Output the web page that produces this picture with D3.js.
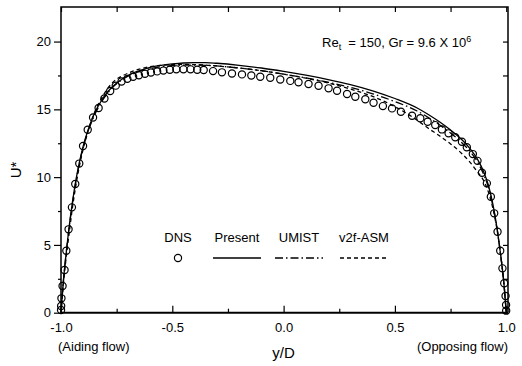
<!DOCTYPE html>
<html>
<head>
<meta charset="utf-8">
<script src="https://cdn.jsdelivr.net/npm/d3@7"></script>
<style>
  body { margin: 0; background: #fff; }
  svg { display: block; font-family: "Liberation Sans", Arial, sans-serif; }
</style>
</head>
<body>
<div id="chart"></div>
<script>
// DNS points (circles)
const dnsY = [-0.9998, -0.9993, -0.998, -0.993, -0.984, -0.976, -0.966, -0.951, -0.936, -0.918,
  -0.901, -0.880, -0.856, -0.831, -0.805, -0.779, -0.754, -0.728, -0.702, -0.676, -0.650, -0.623, -0.596, -0.568, -0.540, -0.511, -0.482,
  -0.450, -0.418, -0.388, -0.359, -0.317, -0.277, -0.232, -0.187, -0.145, -0.105, -0.060, -0.015,
  0.030, 0.067, 0.112, 0.157, 0.202, 0.240, 0.285, 0.322, 0.367, 0.404, 0.446, 0.487, 0.527, 0.577,
  0.614, 0.647, 0.681, 0.711, 0.741, 0.771, 0.801, 0.823, 0.850, 0.871,
  0.891, 0.913, 0.931, 0.946, 0.961, 0.973, 0.983, 0.991, 0.997, 0.9993, 0.9998];
const dnsU = [0.2, 0.5, 1.06, 1.97, 3.15, 4.57, 6.15, 7.77, 9.49, 11.0,
  12.3, 13.5, 14.4, 15.1, 15.8, 16.35, 16.75, 17.05, 17.25, 17.4, 17.52, 17.62, 17.72, 17.8, 17.86, 17.92, 17.95,
  17.95, 17.95, 17.92, 17.9, 17.82, 17.73, 17.65, 17.58, 17.5, 17.4, 17.33, 17.2,
  17.1, 17.0, 16.87, 16.74, 16.55, 16.37, 16.13, 15.93, 15.74, 15.49, 15.24, 15.07, 14.82, 14.53,
  14.34, 14.09, 13.84, 13.52, 13.23, 12.94, 12.61, 12.2, 11.7, 11.2,
  10.32, 9.54, 8.55, 7.33, 5.97, 4.57, 3.27, 2.17, 1.23, 0.57, 0.15];

// model curves share one y/D grid
const modelY = [-1, -0.99, -0.98, -0.97, -0.96, -0.95, -0.94,
  -0.92, -0.9, -0.88, -0.85, -0.82, -0.79, -0.76, -0.72, -0.68, -0.64, -0.6,
  -0.55, -0.5, -0.45, -0.4, -0.35, -0.3,
  -0.2, -0.1, 0,
  0.1, 0.2, 0.3, 0.4, 0.5, 0.6,
  0.65, 0.7, 0.75, 0.8,
  0.84, 0.87, 0.9, 0.92, 0.94,
  0.96, 0.97, 0.98, 0.99, 1.0];
const presentU = [0, 2.2, 3.9, 5.4, 6.8, 8.0, 9.1,
  10.9, 12.3, 13.4, 14.7, 15.6, 16.3, 16.8, 17.3, 17.65, 17.9, 18.1,
  18.25, 18.35, 18.42, 18.45, 18.45, 18.4,
  18.25, 18.05, 17.8,
  17.52, 17.2, 16.83, 16.37, 15.8, 15.1,
  14.62, 14.08, 13.47, 12.77,
  12.05, 11.35, 10.35, 9.4, 8.0,
  6.1, 4.9, 3.6, 2.1, 0];
const umistU = [0, 2.2, 3.9, 5.4, 6.7, 7.9, 9.0,
  10.8, 12.2, 13.3, 14.55, 15.5, 16.2, 16.75, 17.25, 17.6, 17.85, 18.0,
  18.15, 18.22, 18.26, 18.27, 18.25, 18.2,
  18.05, 17.85, 17.6,
  17.32, 17.0, 16.62, 16.15, 15.57, 14.88,
  14.4, 13.86, 13.25, 12.55,
  11.85, 11.15, 10.15, 9.25, 7.9,
  6.1, 4.9, 3.6, 2.1, 0];
const v2fU = [0, 2.0, 3.6, 5.0, 6.3, 7.6, 8.7,
  10.6, 12.1, 13.3, 14.75, 15.75, 16.55, 17.1, 17.5, 17.8, 18.0, 18.15,
  18.25, 18.3, 18.32, 18.3, 18.27, 18.2,
  18.05, 17.85, 17.6,
  17.3, 16.95, 16.5, 15.95, 15.2, 14.2,
  13.6, 13.05, 12.45, 11.75,
  11.05, 10.4, 9.7, 8.9, 7.7,
  6.0, 4.9, 3.6, 2.1, 0];

const xMajor = [-1.0, -0.5, 0.0, 0.5, 1.0];
const xMinor = [-0.75, -0.25, 0.25, 0.75];
const yMajor = [0, 5, 10, 15, 20];
const yMinor = [2.5, 7.5, 12.5, 17.5];

const legendNames = ["DNS", "Present", "UMIST", "v2f-ASM"];

const W = 522, H = 366;
const margin = { top: 7, right: 14, bottom: 53.3, left: 61 };

const svg = d3.select("#chart")
  .append("svg")
  .attr("width", W)
  .attr("height", H);

const x = d3.scaleLinear()
  .domain([-1, 1.008])
  .range([margin.left, W - margin.right]);

const y = d3.scaleLinear()
  .domain([0, 22.55])
  .range([H - margin.bottom, margin.top]);

const x0 = margin.left, x1 = W - margin.right;
const y0 = H - margin.bottom, y1 = margin.top;

// bottom axis: ticks point inward (up)
svg.append("g")
  .attr("transform", `translate(0,${y0})`)
  .call(d3.axisBottom(x).tickValues(xMajor).tickSizeInner(-7).tickSizeOuter(0).tickPadding(10))
  .call(g => g.select(".domain").remove())
  .selectAll("text")
    .style("font-size", "13px")
    .text(d => d3.format(".1f")(d).replace("−", "-"));

svg.append("g")
  .attr("transform", `translate(0,${y0})`)
  .call(d3.axisBottom(x).tickValues(xMinor).tickSizeInner(-4).tickSizeOuter(0).tickFormat(""))
  .call(g => g.select(".domain").remove());

// top axis, inward ticks, no labels
svg.append("g")
  .attr("transform", `translate(0,${y1})`)
  .call(d3.axisTop(x).tickValues(xMajor.concat(xMinor)).tickSizeInner(-5).tickSizeOuter(0).tickFormat(""))
  .call(g => g.select(".domain").remove());

// left axis: ticks outward
svg.append("g")
  .attr("transform", `translate(${x0},0)`)
  .call(d3.axisLeft(y).tickValues(yMajor).tickSizeInner(7).tickSizeOuter(0).tickPadding(3))
  .call(g => g.select(".domain").remove())
  .selectAll("text")
    .style("font-size", "13px");

svg.append("g")
  .attr("transform", `translate(${x0},0)`)
  .call(d3.axisLeft(y).tickValues(yMinor).tickSizeInner(3).tickSizeOuter(0).tickFormat(""))
  .call(g => g.select(".domain").remove());

// right axis: inward ticks
svg.append("g")
  .attr("transform", `translate(${x1},0)`)
  .call(d3.axisRight(y).tickValues(yMajor.concat(yMinor)).tickSizeInner(-5).tickSizeOuter(0).tickFormat(""))
  .call(g => g.select(".domain").remove());

svg.selectAll(".tick line").attr("stroke", "#000").attr("stroke-width", 1.2);

// frame
svg.append("path")
  .attr("d", `M${x0},${y0}V${y1}H${x1}V${y0}`)
  .attr("fill", "none")
  .attr("stroke", "#000")
  .attr("stroke-width", 1.5);
svg.append("line")
  .attr("x1", x0).attr("x2", x1)
  .attr("y1", y0).attr("y2", y0)
  .attr("stroke", "#000")
  .attr("stroke-width", 2);

// model curves
const line = d3.line()
  .x(d => x(d[0]))
  .y(d => y(d[1]))
  .curve(d3.curveMonotoneX);

const series = [
  { name: "Present", values: presentU, dash: null },
  { name: "UMIST", values: umistU, dash: "8,3,1.5,3" },
  { name: "v2f-ASM", values: v2fU, dash: "4,3" }
];

series.forEach(s => {
  svg.append("path")
    .datum(modelY.map((v, i) => [v, s.values[i]]))
    .attr("d", line)
    .attr("fill", "none")
    .attr("stroke", "#000")
    .attr("stroke-width", 1.3)
    .attr("stroke-dasharray", s.dash);
});

// DNS circles
svg.append("g")
  .selectAll("circle")
  .data(dnsY.map((v, i) => [v, dnsU[i]]))
  .enter()
  .append("circle")
    .attr("cx", d => x(d[0]))
    .attr("cy", d => y(d[1]))
    .attr("r", 3.6)
    .attr("fill", "none")
    .attr("stroke", "#000")
    .attr("stroke-width", 1.2);

// legend
const legendCenters = [178, 237, 299, 364];
const legendG = svg.append("g");
legendG.selectAll("text")
  .data(legendNames)
  .enter()
  .append("text")
    .attr("x", (d, i) => legendCenters[i])
    .attr("y", 242)
    .attr("text-anchor", "middle")
    .style("font-size", "13px")
    .text(d => d);

legendG.append("circle")
  .attr("cx", legendCenters[0])
  .attr("cy", 258)
  .attr("r", 3.6)
  .attr("fill", "none")
  .attr("stroke", "#000")
  .attr("stroke-width", 1.2);

series.forEach((s, i) => {
  const cx = legendCenters[i + 1];
  legendG.append("line")
    .attr("x1", cx - 24).attr("x2", cx + 24)
    .attr("y1", 258).attr("y2", 258)
    .attr("stroke", "#000")
    .attr("stroke-width", 1.3)
    .attr("stroke-dasharray", s.dash);
});

// annotation
const note = svg.append("text")
  .attr("x", 322)
  .attr("y", 47)
  .style("font-size", "13px");
note.append("tspan").text("Re");
note.append("tspan").attr("dy", 3).style("font-size", "9px").text("t");
note.append("tspan").attr("dy", -3).text("  = 150, Gr = 9.6 X 10").attr("xml:space", "preserve");
note.append("tspan").attr("dy", -5).style("font-size", "9px").text("6");

// axis titles
svg.append("text")
  .attr("x", x(0))
  .attr("y", 358)
  .attr("text-anchor", "middle")
  .style("font-size", "15px")
  .text("y/D");

svg.append("text")
  .attr("transform", "translate(21,170) rotate(-90)")
  .attr("text-anchor", "middle")
  .style("font-size", "15px")
  .text("U*");

svg.append("text")
  .attr("x", 58)
  .attr("y", 351)
  .style("font-size", "13px")
  .text("(Aiding flow)");

svg.append("text")
  .attr("x", 508)
  .attr("y", 351)
  .attr("text-anchor", "end")
  .style("font-size", "13px")
  .text("(Opposing flow)");
</script>
</body>
</html>
